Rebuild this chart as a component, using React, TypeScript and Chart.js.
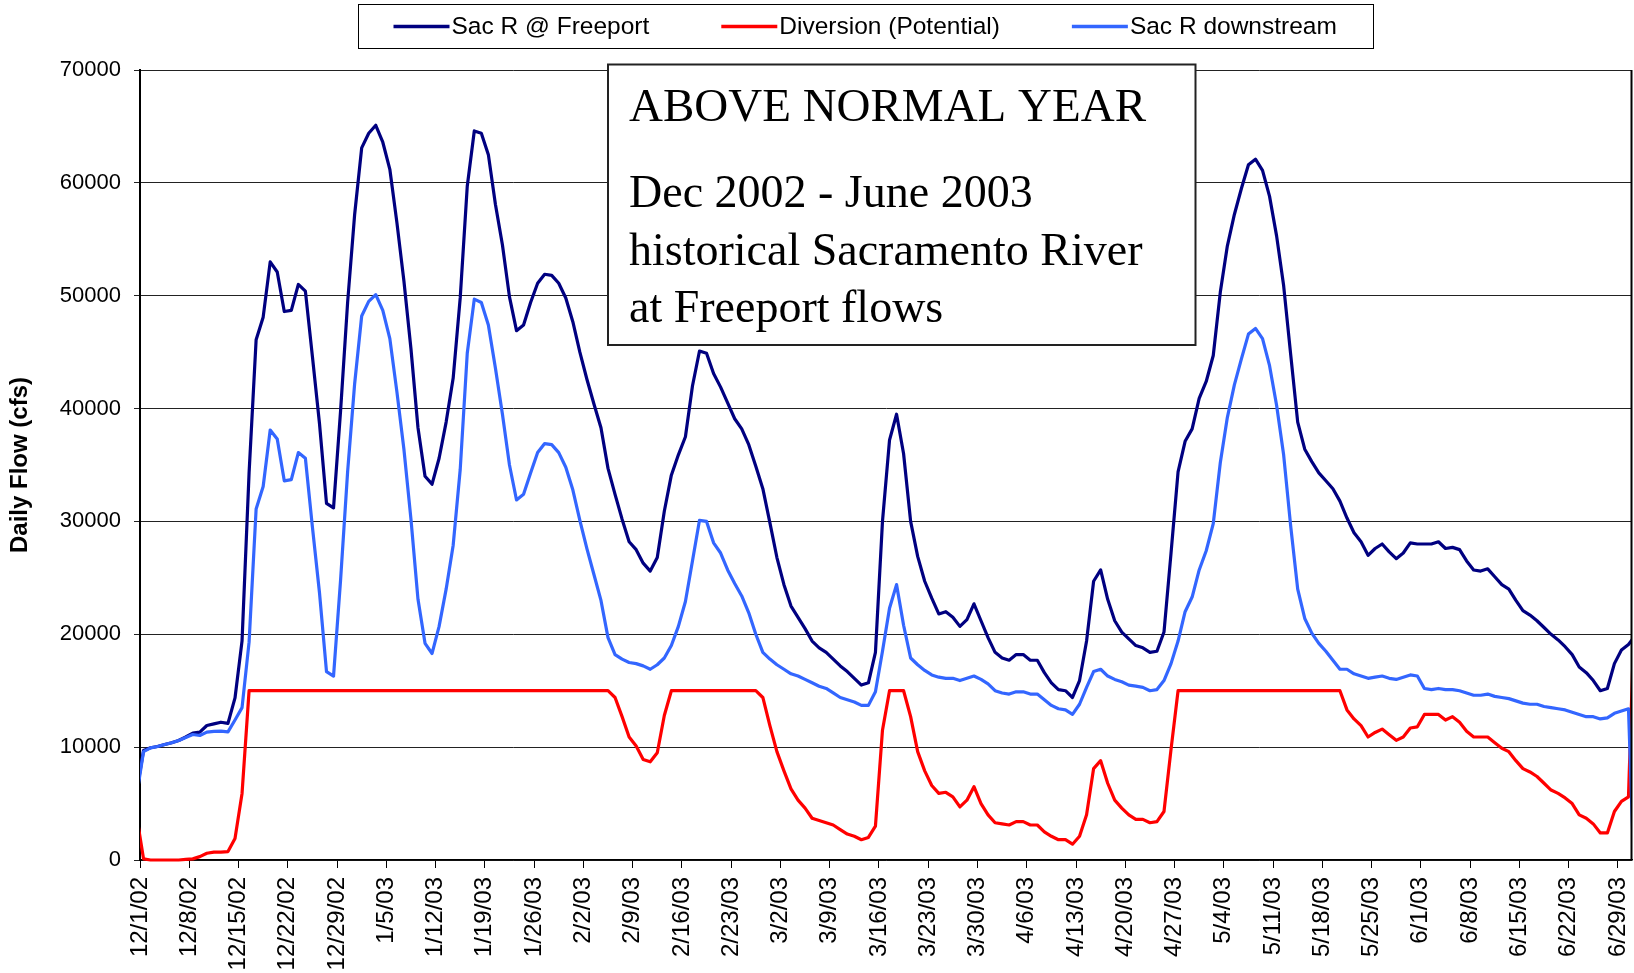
import React, { useEffect, useRef } from "react";
import { Chart, registerables } from "chart.js";

Chart.register(...registerables);

// ---------- DATA ----------
const SERIES_NAMES = ["Sac R @ Freeport", "Diversion (Potential)", "Sac R downstream"];
const SERIES_COLORS = ["#000080", "#FF0000", "#3366FF"];

// weekly tick labels (one every 7 days, starting 12/1/02)
const X_TICK_LABELS = [
  "12/1/02", "12/8/02", "12/15/02", "12/22/02", "12/29/02", "1/5/03", "1/12/03", "1/19/03",
  "1/26/03", "2/2/03", "2/9/03", "2/16/03", "2/23/03", "3/2/03", "3/9/03", "3/16/03",
  "3/23/03", "3/30/03", "4/6/03", "4/13/03", "4/20/03", "4/27/03", "5/4/03", "5/11/03",
  "5/18/03", "5/25/03", "6/1/03", "6/8/03", "6/15/03", "6/22/03", "6/29/03",
];
const Y_MAX = 70000;
const Y_STEP = 10000;

const BOX_LINES = ["ABOVE NORMAL YEAR", "Dec 2002 - June 2003", "historical Sacramento River", "at Freeport flows"];

// daily flows, 11/30/02 .. 7/1/03 (first and last only partly visible)
const FREEPORT = [
  6000,
  9700, 9950, 10060, 10240, 10390, 10590, 10900,
  11240, 11330, 11920, 12060, 12210, 12100, 14360,
  19420, 34300, 46100, 48100, 53000, 52100, 48600,
  48700, 51000, 50400, 44600, 38700, 31600, 31200,
  39800, 49400, 57200, 63100, 64400, 65100, 63600,
  61200, 56500, 51300, 45300, 38300, 34000, 33300,
  35600, 38800, 42700, 49800, 59700, 64600, 64400,
  62500, 58100, 54500, 49900, 46900, 47400, 49400,
  51100, 51900, 51800, 51100, 49800, 47700, 45000,
  42600, 40400, 38300, 34700, 32400, 30200, 28200,
  27500, 26300, 25600, 26800, 30900, 34100, 35900,
  37500, 42000, 45100, 44900, 43100, 41900, 40500,
  39100, 38200, 36800, 34900, 32900, 29900, 26800,
  24400, 22500, 21500, 20500, 19400, 18800, 18400,
  17800, 17200, 16700, 16100, 15500, 15700, 18400,
  30000, 37200, 39500, 36000, 30000, 26900, 24700,
  23200, 21800, 22000, 21500, 20700, 21300, 22700,
  21200, 19700, 18400, 17900, 17700, 18200, 18200,
  17700, 17700, 16600, 15700, 15100, 15000, 14400,
  15900, 19400, 24700, 25700, 23100, 21200, 20200,
  19600, 19000, 18800, 18400, 18500, 20200, 27200,
  34400, 37100, 38200, 40900, 42400, 44700, 50300,
  54400, 57200, 59500, 61600, 62100, 61100, 58800,
  55300, 50900, 44800, 38800, 36400, 35300, 34300,
  33600, 32900, 31800, 30300, 29000, 28200, 27000,
  27600, 28000, 27300, 26700, 27200, 28100, 28000,
  28000, 28000, 28200, 27600, 27700, 27500, 26500,
  25700, 25600, 25800, 25100, 24400, 24000, 23000,
  22100, 21700, 21200, 20600, 20000, 19500, 18900,
  18200, 17100, 16600, 15900, 15000, 15200, 17400,
  18600, 19100,
  19900,
];

const DIVERSION = [
  4000,
  100, 0, 0, 0, 0, 0, 50,
  100, 300, 600, 700, 700, 750, 1900,
  5900, 15000, 15000, 15000, 15000, 15000, 15000,
  15000, 15000, 15000, 15000, 15000, 15000, 15000,
  15000, 15000, 15000, 15000, 15000, 15000, 15000,
  15000, 15000, 15000, 15000, 15000, 15000, 15000,
  15000, 15000, 15000, 15000, 15000, 15000, 15000,
  15000, 15000, 15000, 15000, 15000, 15000, 15000,
  15000, 15000, 15000, 15000, 15000, 15000, 15000,
  15000, 15000, 15000, 15000, 14400, 12700, 10900,
  10100, 8900, 8700, 9500, 12800, 15000, 15000,
  15000, 15000, 15000, 15000, 15000, 15000, 15000,
  15000, 15000, 15000, 15000, 14400, 11900, 9600,
  7900, 6300, 5300, 4600, 3700, 3500, 3300,
  3100, 2700, 2300, 2100, 1800, 2000, 3000,
  11500, 15000, 15000, 15000, 12700, 9600, 7900,
  6600, 5900, 6000, 5600, 4700, 5300, 6500,
  5000, 4000, 3300, 3200, 3100, 3400, 3400,
  3100, 3100, 2500, 2100, 1800, 1800, 1400,
  2100, 4000, 8100, 8800, 6800, 5300, 4600,
  4000, 3600, 3600, 3300, 3400, 4300, 9800,
  15000, 15000, 15000, 15000, 15000, 15000, 15000,
  15000, 15000, 15000, 15000, 15000, 15000, 15000,
  15000, 15000, 15000, 15000, 15000, 15000, 15000,
  15000, 15000, 15000, 13300, 12500, 11900, 10900,
  11300, 11600, 11100, 10600, 10900, 11700, 11800,
  12900, 12900, 12900, 12400, 12700, 12200, 11400,
  10900, 10900, 10900, 10400, 9900, 9600, 8800,
  8100, 7800, 7400, 6800, 6200, 5900, 5500,
  5000, 4000, 3700, 3200, 2400, 2400, 4300,
  5200, 5600,
  25000,
];

const DOWNSTREAM = [
  5600,
  9600, 9940, 10060, 10240, 10390, 10590, 10850,
  11120, 11030, 11330, 11390, 11420, 11350, 12400,
  13500, 19300, 31100, 33100, 38100, 37300, 33600,
  33700, 36100, 35600, 29500, 23700, 16700, 16300,
  24800, 34400, 42200, 48200, 49500, 50100, 48700,
  46200, 41500, 36400, 30200, 23100, 19200, 18300,
  20700, 24000, 27900, 34600, 44900, 49700, 49400,
  47400, 43600, 39500, 35000, 31900, 32400, 34300,
  36100, 36900, 36800, 36100, 34800, 32800, 30100,
  27600, 25300, 23000, 19700, 18200, 17800, 17500,
  17400, 17200, 16900, 17300, 17900, 19000, 20700,
  22900, 26500, 30100, 30000, 28100, 27200, 25700,
  24500, 23400, 21900, 20000, 18400, 17800, 17300,
  16900, 16500, 16300, 16000, 15700, 15400, 15200,
  14800, 14400, 14200, 14000, 13700, 13700, 14900,
  18500, 22300, 24400, 20800, 17900, 17300, 16800,
  16400, 16200, 16100, 16100, 15900, 16100, 16300,
  16000, 15600, 15000, 14800, 14700, 14900, 14900,
  14700, 14700, 14200, 13700, 13400, 13300, 12900,
  13800, 15300, 16700, 16900, 16300, 16000, 15800,
  15500, 15400, 15300, 15000, 15100, 15900, 17400,
  19400, 22000, 23300, 25700, 27400, 29800, 35200,
  39200, 42100, 44400, 46600, 47100, 46200, 43800,
  40300, 35900, 29600, 24000, 21400, 20100, 19200,
  18500, 17700, 16900, 16900, 16500, 16300, 16100,
  16200, 16300, 16100, 16000, 16200, 16400, 16300,
  15200, 15100, 15200, 15100, 15100, 15000, 14800,
  14600, 14600, 14700, 14500, 14400, 14300, 14100,
  13900, 13800, 13800, 13600, 13500, 13400, 13300,
  13100, 12900, 12700, 12700, 12500, 12600, 13000,
  13200, 13400,
  -5000,
];

const SERIES = [FREEPORT, DIVERSION, DOWNSTREAM];

// ---------- STYLE ----------
const SANS = '"Liberation Sans", Arial, sans-serif';
const SERIF = '"Liberation Serif", "Times New Roman", serif';
const W = 1634;
const H = 973;

// points sit in the middle of each day interval; index 0 is 11/30
const toPoints = (arr: number[]) => arr.map((v, i) => ({ x: i - 0.5, y: v }));

const overlayPlugin = {
  id: "overlay",
  afterDatasetsDraw(chart: any) {
    const ctx: CanvasRenderingContext2D = chart.ctx;
    const ca = chart.chartArea;
    ctx.save();
    // right border of plot area
    ctx.strokeStyle = "#000";
    ctx.lineWidth = 2;
    ctx.beginPath();
    ctx.moveTo(ca.right - 0.5, ca.top);
    ctx.lineTo(ca.right - 0.5, ca.bottom);
    ctx.stroke();

    // annotation text box
    const bl = 608, bt = 64.5, br = 1195.5, bb = 345;
    ctx.fillStyle = "#fff";
    ctx.fillRect(bl, bt, br - bl, bb - bt);
    ctx.strokeStyle = "#222";
    ctx.lineWidth = 2;
    ctx.strokeRect(bl, bt, br - bl, bb - bt);
    ctx.fillStyle = "#000";
    ctx.textBaseline = "alphabetic";
    ctx.textAlign = "left";
    const baselines = [121, 207, 265, 322];
    const sizes = [47, 46, 46, 46];
    BOX_LINES.forEach((t, i) => {
      ctx.font = `${sizes[i]}px ${SERIF}`;
      ctx.fillText(t, 629, baselines[i]);
    });
    ctx.restore();
  },
  afterDraw(chart: any) {
    const ctx: CanvasRenderingContext2D = chart.ctx;
    ctx.save();
    const bl = 358.5, bt = 4.5, br = 1373.5, bb = 48.5;
    ctx.fillStyle = "#fff";
    ctx.fillRect(bl, bt, br - bl, bb - bt);
    ctx.strokeStyle = "#000";
    ctx.lineWidth = 1;
    ctx.strokeRect(bl, bt, br - bl, bb - bt);
    ctx.font = `24.5px ${SANS}`;
    ctx.textBaseline = "middle";
    ctx.textAlign = "left";
    let x = bl + 35;
    const cy = 26.5;
    chart.data.datasets.forEach((ds: any) => {
      ctx.strokeStyle = ds.borderColor;
      ctx.lineWidth = 3.5;
      ctx.beginPath();
      ctx.moveTo(x, cy);
      ctx.lineTo(x + 56, cy);
      ctx.stroke();
      ctx.fillStyle = "#000";
      ctx.fillText(ds.label, x + 58, cy + 1);
      x += 58 + ctx.measureText(ds.label).width + 72;
    });
    ctx.restore();
  },
};

export default function App() {
  const canvasRef = useRef<HTMLCanvasElement | null>(null);

  useEffect(() => {
    if (!canvasRef.current) return;
    const chart = new Chart(canvasRef.current, {
      type: "line",
      data: {
        datasets: SERIES.map((arr, i) => ({
          label: SERIES_NAMES[i],
          data: toPoints(arr),
          borderColor: SERIES_COLORS[i],
          backgroundColor: SERIES_COLORS[i],
          borderWidth: 3.2,
          pointRadius: 0,
          pointHoverRadius: 0,
          tension: 0,
          fill: false,
          borderJoinStyle: "round",
          borderCapStyle: "round",
          order: 3 - i,
          clip: { left: 0, right: 0, top: 5, bottom: 5 },
        })) as any,
      },
      options: {
        responsive: false,
        animation: false,
        events: [],
        layout: { padding: { top: 70, right: 2, left: 0, bottom: 0 } },
        plugins: {
          legend: { display: false },
          tooltip: { enabled: false },
        },
        scales: {
          x: {
            type: "linear",
            min: 0,
            max: 212,
            afterBuildTicks: (s: any) => {
              s.ticks = X_TICK_LABELS.map((_, i) => ({ value: i * 7 }));
            },
            afterFit: (s: any) => {
              s.height = H - 860;
              s.paddingLeft = 0;
              s.paddingRight = 0;
            },
            ticks: {
              autoSkip: false,
              maxRotation: 90,
              minRotation: 90,
              padding: 9,
              color: "#000",
              font: { family: SANS, size: 24 },
              callback: (v: any) => X_TICK_LABELS[Math.round(Number(v) / 7)] ?? "",
            },
            grid: { drawOnChartArea: false, drawTicks: true, tickLength: 8, color: "#000", lineWidth: 1 },
            border: { display: true, color: "#000", width: 1.5 },
          },
          y: {
            min: 0,
            max: Y_MAX,
            afterFit: (s: any) => {
              s.width = 140;
            },
            ticks: {
              stepSize: Y_STEP,
              padding: 13,
              color: "#000",
              font: { family: SANS, size: 22 },
              callback: (v: any) => String(v),
            },
            grid: { color: "#222", lineWidth: 1, drawTicks: true, tickLength: 6 },
            border: { display: true, color: "#000", width: 2 },
            title: {
              display: true,
              text: "Daily Flow (cfs)",
              color: "#000",
              font: { family: SANS, size: 24, weight: "bold" },
              padding: { top: 6, bottom: 0 },
            },
          },
        },
      },
      plugins: [overlayPlugin],
    });
    return () => chart.destroy();
  }, []);

  return (
    <div style={{ position: "absolute", left: 0, top: 0, width: W, height: H, background: "#fff" }}>
      <canvas ref={canvasRef} width={W} height={H} style={{ display: "block" }} />
    </div>
  );
}
